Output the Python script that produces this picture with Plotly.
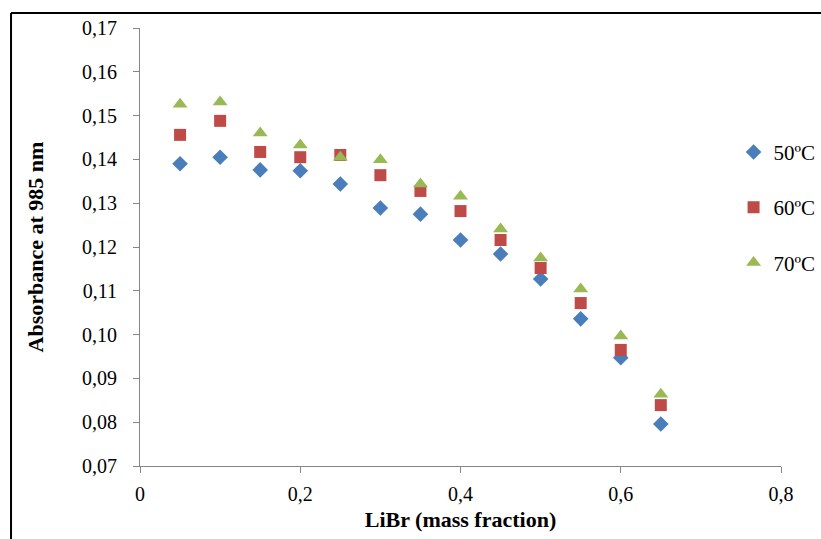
import plotly.graph_objects as go

libr = [0.05, 0.10, 0.15, 0.20, 0.25, 0.30, 0.35, 0.40, 0.45, 0.50, 0.55, 0.60, 0.65]
abs_50 = [0.1390, 0.1405, 0.1376, 0.1374, 0.1344, 0.1289, 0.1275, 0.1216, 0.1184, 0.1127, 0.1036, 0.0947, 0.0796]
abs_60 = [0.1456, 0.1488, 0.1417, 0.1405, 0.1410, 0.1364, 0.1328, 0.1282, 0.1216, 0.1152, 0.1072, 0.0965, 0.0839]
abs_70 = [0.1526, 0.1531, 0.1460, 0.1433, 0.1405, 0.1399, 0.1344, 0.1316, 0.1241, 0.1175, 0.1104, 0.0997, 0.0864]
series_names = ["50ºC", "60ºC", "70ºC"]
x_ticks = [0, 0.2, 0.4, 0.6, 0.8]
x_tick_labels = ["0", "0,2", "0,4", "0,6", "0,8"]
y_ticks = [0.07, 0.08, 0.09, 0.10, 0.11, 0.12, 0.13, 0.14, 0.15, 0.16, 0.17]
y_tick_labels = ["0,07", "0,08", "0,09", "0,10", "0,11", "0,12", "0,13", "0,14", "0,15", "0,16", "0,17"]

FONT = "Liberation Serif, Times New Roman, serif"
styles = [
    dict(symbol="diamond", color="#4A7EBB", size=12),
    dict(symbol="square", color="#BE4B48", size=12),
    dict(symbol="triangle-up", color="#98B954", size=13),
]

fig = go.Figure()
for name, ys, st, g in zip(series_names, [abs_50, abs_60, abs_70], styles, ["a", "b", "c"]):
    fig.add_trace(go.Scatter(
        x=libr, y=ys, mode="markers", name=name, legendgroup=g,
        marker=dict(symbol=st["symbol"], color=st["color"], size=st["size"], line=dict(width=0)),
    ))

axis_common = dict(
    showgrid=False, zeroline=False, showline=True, linecolor="#868686", linewidth=1,
    ticks="outside", ticklen=6, tickcolor="#868686", tickwidth=1,
    tickfont=dict(family=FONT, size=20, color="black"),
)

fig.update_layout(
    width=821, height=539,
    margin=dict(l=140, r=40, t=28, b=73, autoexpand=False),
    paper_bgcolor="white", plot_bgcolor="white",
    font=dict(family=FONT, color="black"),
    xaxis=dict(range=[0, 0.8], tickvals=x_ticks, ticktext=x_tick_labels, ticklabelstandoff=4,
               title=dict(text="<b>LiBr (mass fraction)</b>", font=dict(family=FONT, size=22), standoff=7),
               **axis_common),
    yaxis=dict(range=[0.07, 0.17], tickvals=y_ticks, ticktext=y_tick_labels, ticklabelstandoff=12,
               title=dict(text="<b>Absorbance at 985 nm</b>", font=dict(family=FONT, size=22), standoff=32),
               **axis_common),
    legend=dict(x=0.926, y=0.763, xanchor="left", yanchor="top", bgcolor="rgba(0,0,0,0)",
                font=dict(family=FONT, size=21, color="black"), tracegroupgap=25,
                itemwidth=30),
    showlegend=True,
)

# outer frame (left and top border)
fig.add_shape(type="line", xref="paper", yref="paper", x0=-0.2012, x1=-0.2012, y0=-0.3, y1=1.0342,
              line=dict(color="black", width=2))
fig.add_shape(type="line", xref="paper", yref="paper", x0=-0.2012, x1=1.1, y0=1.0342, y1=1.0342,
              line=dict(color="black", width=2))

fig.write_html("out.html", config={"displayModeBar": False},
               post_script="document.body.style.margin='0';")
